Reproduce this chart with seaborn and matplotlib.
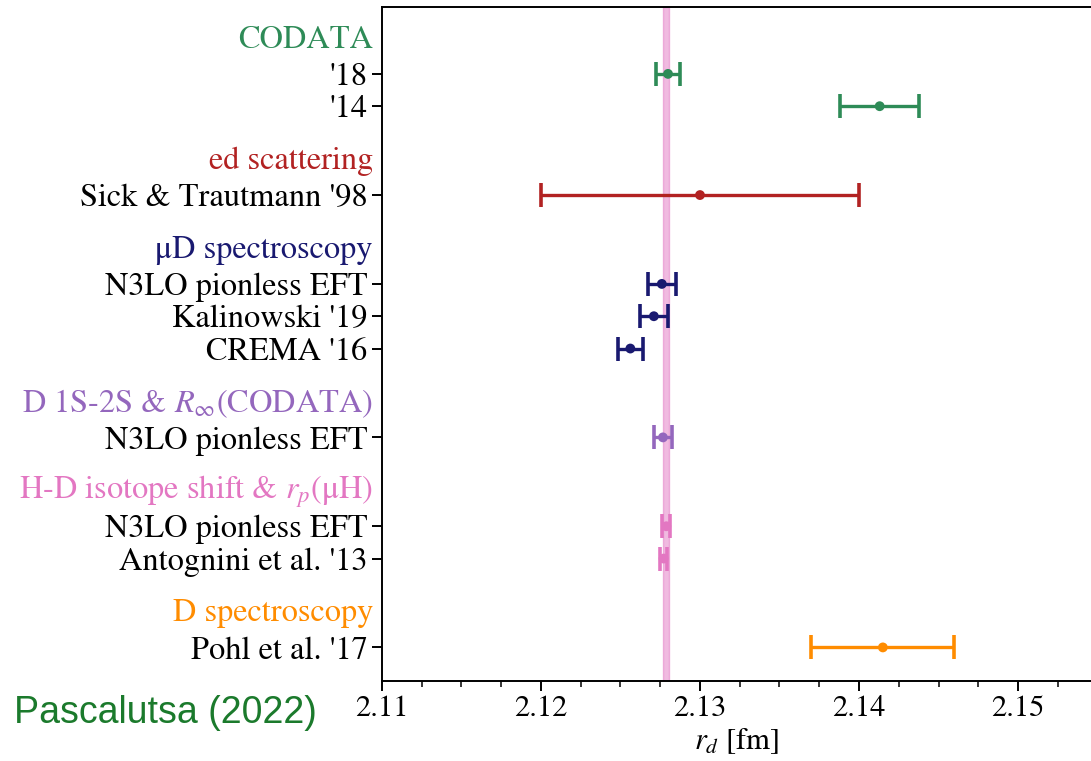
import numpy as np
import pandas as pd
import matplotlib
matplotlib.use("Agg")
import matplotlib.pyplot as plt
from matplotlib.ticker import MultipleLocator
import matplotlib.transforms as mtransforms
import seaborn as sns

# group headers and colours
groups = ["CODATA", "ed scattering", "μD spectroscopy",
          r"D 1S-2S & $R_\infty$(CODATA)", r"H-D isotope shift & $r_p$(μH)",
          "D spectroscopy"]
group_colors = ["seagreen", "firebrick", "midnightblue", "tab:purple", "tab:pink", "darkorange"]

# individual results (deuteron charge radius, fm)
labels = ["'18", "'14", "Sick & Trautmann '98", "N3LO pionless EFT", "Kalinowski '19",
          "CREMA '16", "N3LO pionless EFT", "N3LO pionless EFT", "Antognini et al. '13",
          "Pohl et al. '17"]
group_idx = [0, 0, 1, 2, 2, 2, 3, 4, 4, 5]
r_d = [2.12799, 2.1413, 2.130, 2.12760, 2.12710, 2.12562, 2.12767, 2.12788, 2.12771, 2.1415]
r_err = [0.00074, 0.0025, 0.010, 0.00090, 0.00090, 0.00078, 0.00059, 0.00024, 0.00022, 0.0045]

# reference band
band_center = 2.12788
band_half = 0.00020

# y layout: 1 unit between rows, 2.75 between groups
ys = []
y = 0.0
for i, g in enumerate(group_idx):
    if i > 0:
        y += 1.0 if g == group_idx[i - 1] else 2.75
    ys.append(y)

df = pd.DataFrame({"label": labels, "group": [groups[g] for g in group_idx],
                   "r_d": r_d, "err": r_err, "y": ys})

sns.set_style("ticks", {"axes.edgecolor": "black", "text.color": "black",
                        "xtick.color": "black", "ytick.color": "black"})
plt.rcParams["font.family"] = ["STIXGeneral", "DejaVu Serif"]
plt.rcParams["mathtext.fontset"] = "stix"

fig = plt.figure(figsize=(10.91, 7.61), dpi=100)
ax = fig.add_axes([0.3501, 0.1051, 0.6499, 0.8857])

ax.axvspan(band_center - band_half, band_center + band_half, facecolor="#e377c2",
           alpha=0.5, edgecolor="#e377c2", lw=1.0, zorder=0)

for _, row in df.iterrows():
    c = group_colors[groups.index(row["group"])]
    ax.errorbar(row["r_d"], row["y"], xerr=row["err"], fmt="none", ecolor=c,
                elinewidth=2.4, capsize=8.5, capthick=2.6, zorder=2)

sns.scatterplot(data=df, x="r_d", y="y", hue="group", palette=group_colors,
                hue_order=groups, s=50, edgecolor="none", legend=False, ax=ax, zorder=3)

ax.set_xlim(2.11, 2.15459)
ax.set_ylim(18.79, -2.07)
ax.set_yticks(ys)
ax.set_yticklabels(labels, fontsize=23.3, color="black")
ax.xaxis.set_major_locator(MultipleLocator(0.01))
ax.xaxis.set_minor_locator(MultipleLocator(0.0025))
ax.set_xticks(ax.get_xticks())
ax.set_xticklabels([f"{t:.2f}" for t in ax.get_xticks()], fontsize=22, color="black")
ax.set_xlim(2.11, 2.15459)
ax.tick_params(axis="both", which="major", length=7, width=1.4, colors="black")
ax.tick_params(axis="x", which="minor", length=4, width=1.1, colors="black")
ax.set_xlabel("$r_d$ [fm]", fontsize=22, labelpad=2, color="black")
ax.set_ylabel("")
ax.spines["right"].set_visible(False)
for s in ["left", "top", "bottom"]:
    ax.spines[s].set_linewidth(1.4)
    ax.spines[s].set_color("black")

# group headers
trans = mtransforms.blended_transform_factory(ax.transAxes, ax.transData)
offset = mtransforms.ScaledTranslation(-9 / 100, 0, fig.dpi_scale_trans)
first = {}
for g, yy in zip(group_idx, ys):
    first.setdefault(g, yy)
for g, yy in first.items():
    ax.text(0, yy - 1.05, groups[g], color=group_colors[g], fontsize=23.3,
            ha="right", va="center", transform=trans + offset)

fig.text(0.013, 0.063, "Pascalutsa (2022)", color="#1b7a2c", fontsize=27,
         family=["Liberation Sans", "DejaVu Sans"], ha="left", va="center")

fig.savefig("out.png", dpi=100)
